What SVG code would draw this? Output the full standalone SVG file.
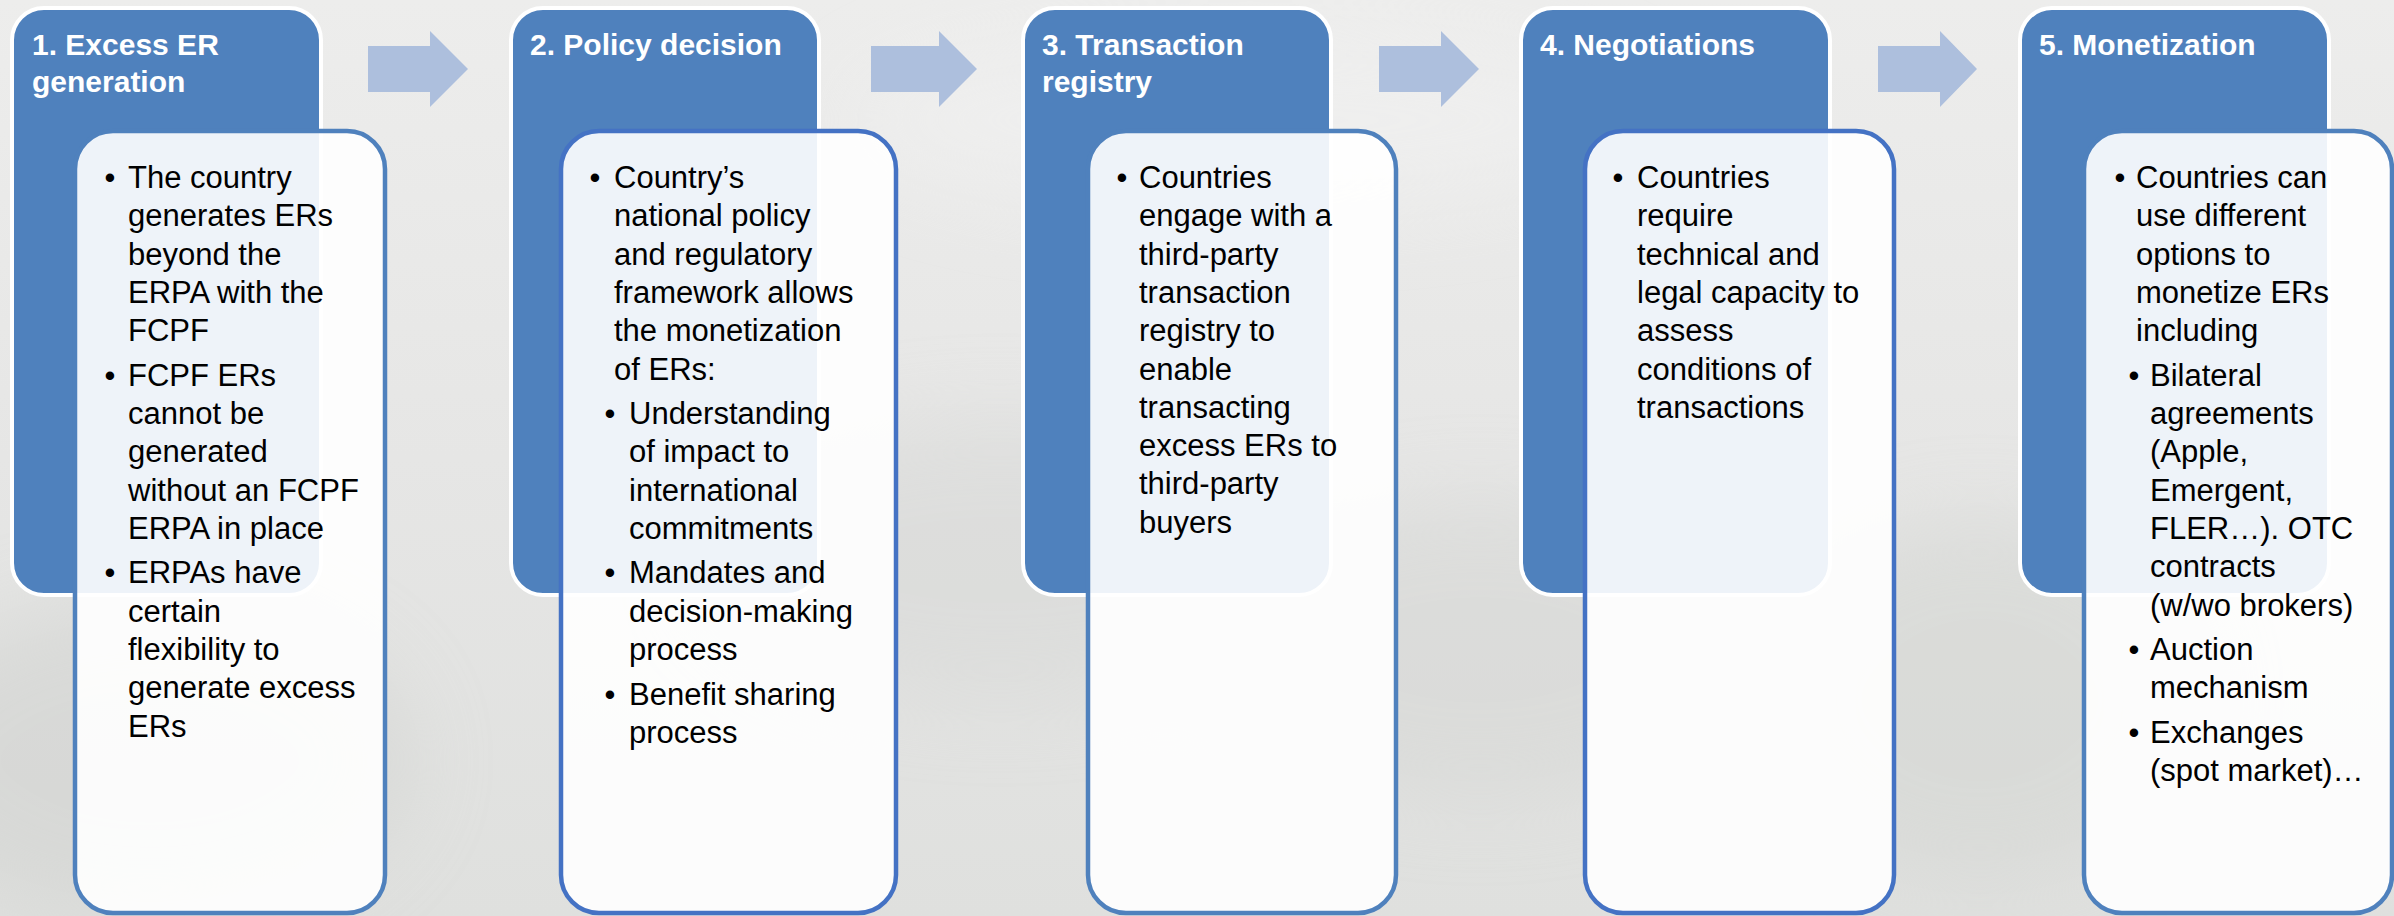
<svg xmlns="http://www.w3.org/2000/svg" width="2394" height="916" viewBox="0 0 2394 916">
  <defs>
    <linearGradient id="bgGrad" x1="0" y1="0" x2="0" y2="1">
      <stop offset="0" stop-color="#ededec"/>
      <stop offset="0.5" stop-color="#e6e6e5"/>
      <stop offset="1" stop-color="#dfe0de"/>
    </linearGradient>
    <filter id="haze" x="-50%" y="-50%" width="200%" height="200%">
      <feGaussianBlur stdDeviation="40"/>
    </filter>
    <style>
      .card { fill: #4f81bd; stroke: #ffffff; stroke-width: 4; }
      .panel { fill: #ffffff; fill-opacity: 0.9; stroke: #4f81bd; stroke-width: 4.5; }
      .panel.alt { stroke: #4472c4; }
      .title { font-family: "Liberation Sans", Arial, sans-serif; font-weight: bold; font-size: 30px; fill: #ffffff; }
      .body { font-family: "Liberation Sans", Arial, sans-serif; font-size: 31px; fill: #000000; }
      .dot { font-family: "Liberation Sans", Arial, sans-serif; font-size: 31px; fill: #000000; text-anchor: middle; }
      .arrow { fill: #adbfdd; }
    </style>
  </defs>

  <!-- soft foggy backdrop -->
  <rect x="0" y="0" width="2394" height="916" fill="url(#bgGrad)"/>
  <g filter="url(#haze)" opacity="0.5">
    <ellipse cx="150" cy="760" rx="260" ry="160" fill="#cfd0ce"/>
    <ellipse cx="1000" cy="560" rx="300" ry="140" fill="#d6d7d5"/>
    <ellipse cx="1480" cy="650" rx="260" ry="150" fill="#d4d5d3"/>
    <ellipse cx="1980" cy="700" rx="220" ry="180" fill="#d2d4d0"/>
    <ellipse cx="1250" cy="120" rx="400" ry="90" fill="#f2f2f2"/>
  </g>

  <!-- step connectors -->
  <g id="connectors">
    <polygon class="arrow" points="368,46 430,46 430,31 468,69 430,107 430,92 368,92"/>
    <polygon class="arrow" points="871,46 939,46 939,31 977,69 939,107 939,92 871,92"/>
    <polygon class="arrow" points="1379,46 1441,46 1441,31 1479,69 1441,107 1441,92 1379,92"/>
    <polygon class="arrow" points="1878,46 1940,46 1940,31 1977,69 1940,107 1940,92 1878,92"/>
  </g>

  <!-- 1. Excess ER generation -->
  <g id="step1">
    <rect class="card" x="12" y="8" width="309" height="587" rx="32"/>
    <text class="title"><tspan x="32" y="55">1. Excess ER</tspan><tspan x="32" y="92">generation</tspan></text>
    <rect class="panel" x="75" y="131" width="310" height="782" rx="38"/>
    <text class="dot"><tspan x="110" y="188">•</tspan><tspan x="110" y="385.7">•</tspan><tspan x="110" y="583.4">•</tspan></text>
    <text class="body">
      <tspan x="128" y="188">The country</tspan>
      <tspan x="128" y="226.3">generates ERs</tspan>
      <tspan x="128" y="264.6">beyond the</tspan>
      <tspan x="128" y="302.9">ERPA with the</tspan>
      <tspan x="128" y="341.2">FCPF</tspan>
      <tspan x="128" y="385.7">FCPF ERs</tspan>
      <tspan x="128" y="424">cannot be</tspan>
      <tspan x="128" y="462.3">generated</tspan>
      <tspan x="128" y="500.6">without an FCPF</tspan>
      <tspan x="128" y="538.9">ERPA in place</tspan>
      <tspan x="128" y="583.4">ERPAs have</tspan>
      <tspan x="128" y="621.7">certain</tspan>
      <tspan x="128" y="660">flexibility to</tspan>
      <tspan x="128" y="698.3">generate excess</tspan>
      <tspan x="128" y="736.6">ERs</tspan>
    </text>
  </g>

  <!-- 2. Policy decision -->
  <g id="step2">
    <rect class="card" x="511" y="8" width="308" height="587" rx="32"/>
    <text class="title"><tspan x="530" y="55">2. Policy decision</tspan></text>
    <rect class="panel alt" x="561" y="131" width="335" height="782" rx="38"/>
    <text class="dot"><tspan x="595" y="188">•</tspan><tspan x="610" y="424">•</tspan><tspan x="610" y="583.4">•</tspan><tspan x="610" y="704.5">•</tspan></text>
    <text class="body">
      <tspan x="614" y="188">Country’s</tspan>
      <tspan x="614" y="226.3">national policy</tspan>
      <tspan x="614" y="264.6">and regulatory</tspan>
      <tspan x="614" y="302.9">framework allows</tspan>
      <tspan x="614" y="341.2">the monetization</tspan>
      <tspan x="614" y="379.5">of ERs:</tspan>
      <tspan x="629" y="424">Understanding</tspan>
      <tspan x="629" y="462.3">of impact to</tspan>
      <tspan x="629" y="500.6">international</tspan>
      <tspan x="629" y="538.9">commitments</tspan>
      <tspan x="629" y="583.4">Mandates and</tspan>
      <tspan x="629" y="621.7">decision-making</tspan>
      <tspan x="629" y="660">process</tspan>
      <tspan x="629" y="704.5">Benefit sharing</tspan>
      <tspan x="629" y="742.8">process</tspan>
    </text>
  </g>

  <!-- 3. Transaction registry -->
  <g id="step3">
    <rect class="card" x="1023" y="8" width="308" height="587" rx="32"/>
    <text class="title"><tspan x="1042" y="55">3. Transaction</tspan><tspan x="1042" y="92">registry</tspan></text>
    <rect class="panel" x="1088" y="131" width="308" height="782" rx="38"/>
    <text class="dot"><tspan x="1122" y="188">•</tspan></text>
    <text class="body">
      <tspan x="1139" y="188">Countries</tspan>
      <tspan x="1139" y="226.3">engage with a</tspan>
      <tspan x="1139" y="264.6">third-party</tspan>
      <tspan x="1139" y="302.9">transaction</tspan>
      <tspan x="1139" y="341.2">registry to</tspan>
      <tspan x="1139" y="379.5">enable</tspan>
      <tspan x="1139" y="417.8">transacting</tspan>
      <tspan x="1139" y="456.1">excess ERs to</tspan>
      <tspan x="1139" y="494.4">third-party</tspan>
      <tspan x="1139" y="532.7">buyers</tspan>
    </text>
  </g>

  <!-- 4. Negotiations -->
  <g id="step4">
    <rect class="card" x="1521" y="8" width="309" height="587" rx="32"/>
    <text class="title"><tspan x="1540" y="55">4. Negotiations</tspan></text>
    <rect class="panel alt" x="1585" y="131" width="309" height="782" rx="38"/>
    <text class="dot"><tspan x="1618" y="188">•</tspan></text>
    <text class="body">
      <tspan x="1637" y="188">Countries</tspan>
      <tspan x="1637" y="226.3">require</tspan>
      <tspan x="1637" y="264.6">technical and</tspan>
      <tspan x="1637" y="302.9">legal capacity to</tspan>
      <tspan x="1637" y="341.2">assess</tspan>
      <tspan x="1637" y="379.5">conditions of</tspan>
      <tspan x="1637" y="417.8">transactions</tspan>
    </text>
  </g>

  <!-- 5. Monetization -->
  <g id="step5">
    <rect class="card" x="2020" y="8" width="309" height="587" rx="32"/>
    <text class="title"><tspan x="2039" y="55">5. Monetization</tspan></text>
    <rect class="panel" x="2084" y="131" width="308" height="782" rx="38"/>
    <text class="dot"><tspan x="2120" y="188">•</tspan><tspan x="2134" y="385.7">•</tspan><tspan x="2134" y="660">•</tspan><tspan x="2134" y="742.8">•</tspan></text>
    <text class="body">
      <tspan x="2136" y="188">Countries can</tspan>
      <tspan x="2136" y="226.3">use different</tspan>
      <tspan x="2136" y="264.6">options to</tspan>
      <tspan x="2136" y="302.9">monetize ERs</tspan>
      <tspan x="2136" y="341.2">including</tspan>
      <tspan x="2150" y="385.7">Bilateral</tspan>
      <tspan x="2150" y="424">agreements</tspan>
      <tspan x="2150" y="462.3">(Apple,</tspan>
      <tspan x="2150" y="500.6">Emergent,</tspan>
      <tspan x="2150" y="538.9">FLER…). OTC</tspan>
      <tspan x="2150" y="577.2">contracts</tspan>
      <tspan x="2150" y="615.5">(w/wo brokers)</tspan>
      <tspan x="2150" y="660">Auction</tspan>
      <tspan x="2150" y="698.3">mechanism</tspan>
      <tspan x="2150" y="742.8">Exchanges</tspan>
      <tspan x="2150" y="781.1">(spot market)…</tspan>
    </text>
  </g>
</svg>
